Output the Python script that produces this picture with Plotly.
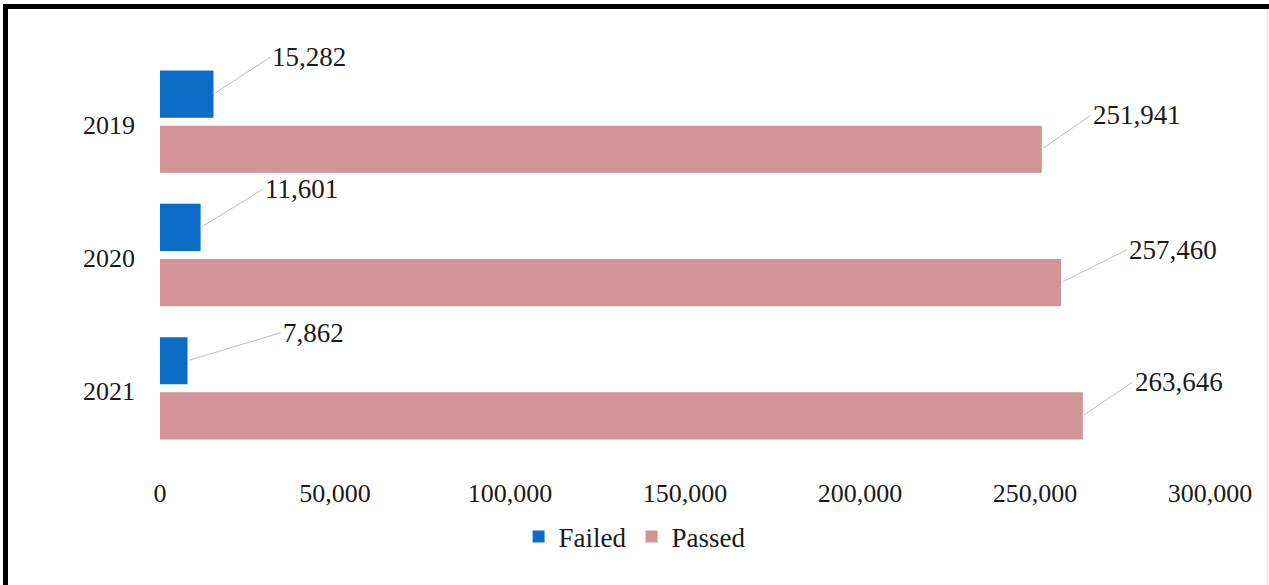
import plotly.graph_objects as go

# Exam outcomes per year
years = ["2019", "2020", "2021"]
failed = [15282, 11601, 7862]
passed = [251941, 257460, 263646]

# Tick values for the horizontal axis
x_ticks = [0, 50000, 100000, 150000, 200000, 250000, 300000]

W, H = 1269, 585
ML, MR, MT, MB = 160, 59, 55, 130
PW, PH = W - ML - MR, H - MT - MB

BLUE = "#0B6CC6"
ROSE = "#D19393"
FONT = "Liberation Serif, Times New Roman, serif"

BARGAP = 0.173
GROUPGAP = 0.145
slot = (1 - BARGAP) / 2          # width of one bar slot in category units

fig = go.Figure()
fig.add_trace(go.Bar(name="Failed", y=years, x=failed, orientation="h",
                     marker=dict(color=BLUE, line=dict(width=0))))
fig.add_trace(go.Bar(name="Passed", y=years, x=passed, orientation="h",
                     marker=dict(color=ROSE, line=dict(width=0))))

# value labels with thin leader lines
failed_off = [(57, -37), (62, -38), (93, -28)]
passed_off = [(49, -34), (66, -33), (50, -34)]
annotations = []
for i, (f, p) in enumerate(zip(failed, passed)):
    for val, yy, (ax, ay) in ((f, i - slot / 2, failed_off[i]),
                              (p, i + slot / 2, passed_off[i])):
        annotations.append(dict(
            x=val, y=yy, xref="x", yref="y", text=f"{val:,}",
            showarrow=True, arrowhead=0, arrowwidth=1, arrowcolor="#BEBEBE",
            ax=ax, ay=ay, xanchor="left", yanchor="middle",
            standoff=2, startstandoff=0,
            font=dict(family=FONT, size=27, color="#1a1a1a")))


def px_x(px):
    return (px - ML) / PW


def px_y(py):
    return (H - MB - py) / PH


shapes = [
    # heavy frame on the top and left edges, faint on the others
    dict(type="line", xref="paper", yref="paper", x0=px_x(3), x1=px_x(W),
         y0=px_y(6.5), y1=px_y(6.5), line=dict(color="black", width=5)),
    dict(type="line", xref="paper", yref="paper", x0=px_x(5.5), x1=px_x(5.5),
         y0=px_y(4), y1=px_y(H), line=dict(color="black", width=5)),
    dict(type="line", xref="paper", yref="paper", x0=px_x(W - 1.5), x1=px_x(W - 1.5),
         y0=px_y(9), y1=px_y(H), line=dict(color="#E2E2E2", width=1)),
]

fig.update_layout(
    width=W, height=H,
    margin=dict(l=ML, r=MR, t=MT, b=MB, autoexpand=False),
    paper_bgcolor="white", plot_bgcolor="white",
    barmode="group", bargap=BARGAP, bargroupgap=GROUPGAP,
    font=dict(family=FONT, size=26, color="#1a1a1a"),
    showlegend=True,
    legend=dict(orientation="h", x=0.452, xanchor="center", y=px_y(537),
                yanchor="middle", font=dict(family=FONT, size=27),
                itemwidth=30, traceorder="normal"),
    annotations=annotations,
    shapes=shapes,
    xaxis=dict(range=[0, 300000], tickvals=x_ticks, tickformat=",",
               showgrid=False, zeroline=False, showline=False,
               ticks="", ticklabelstandoff=20, automargin=False,
               tickfont=dict(family=FONT, size=26, color="#1a1a1a")),
    yaxis=dict(type="category", categoryorder="array", categoryarray=years,
               range=[len(years) - 0.5, -0.5], autorange=False,
               showgrid=False, zeroline=False,
               showline=False, ticks="", ticklabelstandoff=24,
               ticklabelshift=-3, automargin=False,
               tickfont=dict(family=FONT, size=26, color="#1a1a1a")),
)

fig.write_html("out.html")
